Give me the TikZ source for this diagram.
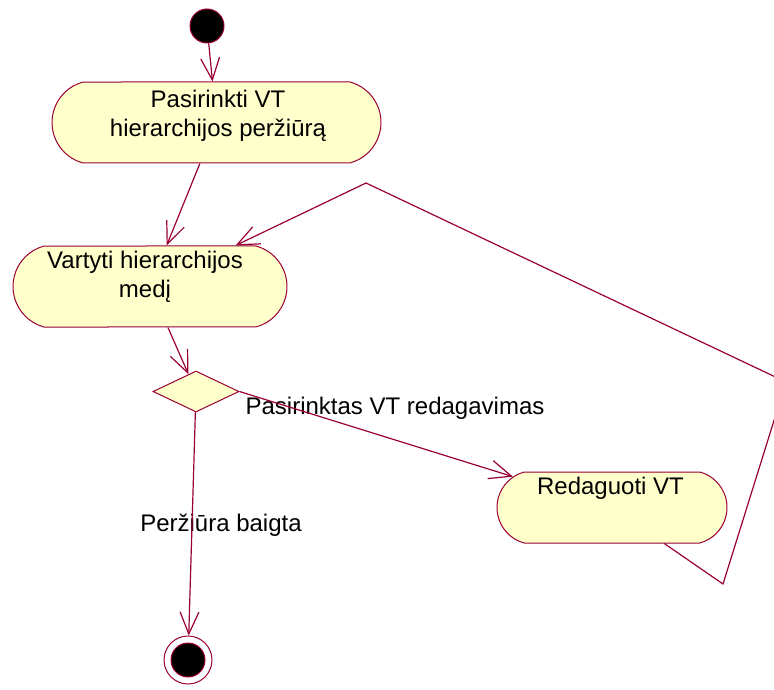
\documentclass[tikz,border=0pt]{standalone}
\usepackage{fontspec}
\setmainfont{Liberation Sans}
\usetikzlibrary{shapes.misc,shapes.geometric,arrows.meta}
\definecolor{roseLine}{RGB}{153,0,51}
\definecolor{roseFill}{RGB}{255,255,204}
\begin{document}
\begin{tikzpicture}
[x=0.5pt,y=-0.5pt,
  lineDecorate/.style={-{Straight Barb[length=11pt,width=9.4pt]},draw=roseLine,line width=0.6pt},
  actDecorate/.style={shape=rounded rectangle,rounded rectangle arc length=150,draw=roseLine,fill=roseFill,inner sep=0pt,line width=0.5pt},
  textDecorate/.style={font=\fontsize{12}{14.5}\selectfont,align=center,inner sep=0pt},
  decisionDecorate/.style={shape=diamond,draw=roseLine,fill=roseFill,inner sep=0pt,minimum width=43pt,minimum height=20.5pt,line width=0.5pt},
  startDecorate/.style={shape=circle,draw=roseLine,fill=black,inner sep=0pt,minimum size=17pt,line width=0.5pt},
  finalDecorate/.style={shape=circle,draw=roseLine,inner sep=0pt,minimum size=24pt,line width=0.5pt,
    path picture={\fill[black,draw=roseLine] (path picture bounding box.center) circle (8.5pt);}},
  scale=1]
\useasboundingbox (0,0) rectangle (774,689);
\clip (0,0) rectangle (774,689);
%% start, decision and final states
\node (start) at (207,26) [startDecorate] {};
\node (decision) at (196,391.5) [decisionDecorate] {};
\node (final) at (188,660) [finalDecorate] {};
%% activities
\foreach \nodename/\x/\y/\w/\h in {
  act1/216.5/122.5/164.5pt/40.5pt,
  act2/150/286.5/137pt/40.5pt,
  act3/612/507.5/115pt/35.5pt}
{
  \node (\nodename) at (\x,\y) [actDecorate,minimum width=\w,minimum height=\h] {};
}
%% texts and guards
\foreach \nodename/\x/\y/\txt in {
  act1text/218/115.5/{Pasirinkti VT\\hierarchijos peržiūrą},
  act2text/145/277/{Vartyti hierarchijos\\medį},
  act3text/610.5/488/{Redaguoti VT},
  guardEdit/395/408/{Pasirinktas VT redagavimas},
  guardDone/221/525/{Peržiūra baigta}}
{
  \node (\nodename) at (\x,\y) [textDecorate] {\txt};
}
%% loop back points
\coordinate (loopA) at (723,584);
\coordinate (loopB) at (786,382);
\coordinate (loopC) at (366,183);
%% transitions
\path
\foreach \startnode/\endnode in {
  start/act1, act1/act2, act2/decision, decision.east/act3, decision/final}
{
  (\startnode) edge[lineDecorate] (\endnode)
};
\draw[lineDecorate] (act3) -- (loopA) -- (loopB) -- (loopC) -- (act2);
\end{tikzpicture}
\end{document}
